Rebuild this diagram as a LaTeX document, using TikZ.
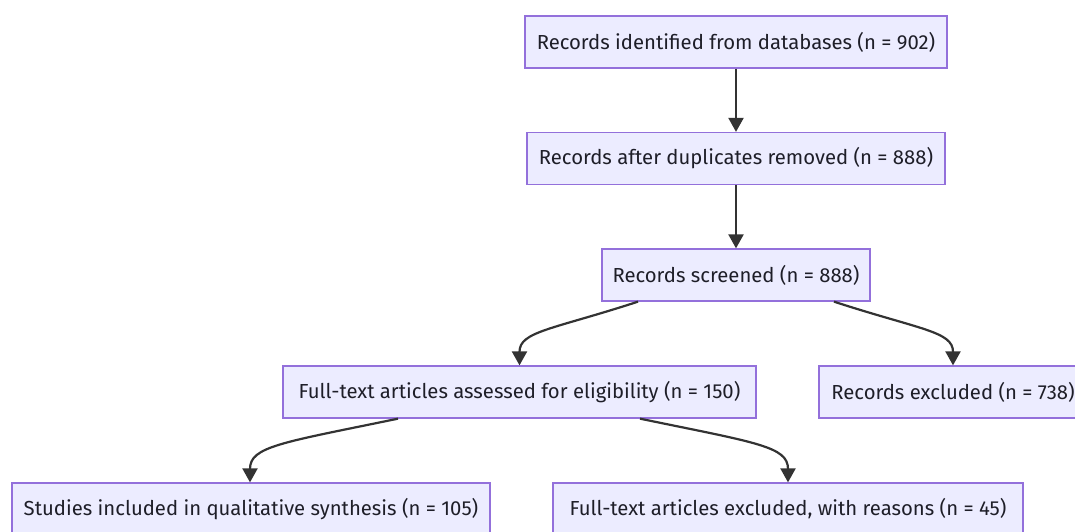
\documentclass[tikz,border=0pt]{standalone}
\usepackage{fontspec}
\setmainfont{Fira Sans}
\usetikzlibrary{arrows.meta}

\definecolor{boxfill}{RGB}{236,236,255}
\definecolor{boxline}{RGB}{147,112,219}
\definecolor{linkcol}{RGB}{51,51,51}
\definecolor{labelcol}{RGB}{30,30,40}

\begin{document}
\begin{tikzpicture}[x=1pt,y=1pt,yscale=-1,
  stage/.style={draw=boxline, fill=boxfill, line width=1.3pt, inner sep=0pt,
    minimum height=52pt, text=labelcol, font=\fontsize{20.3}{22}\selectfont},
  link/.style={draw=linkcol, line width=2.2pt, -{Triangle[length=14pt,width=15pt]}}]
\clip (0,0) rectangle (1075,531);

% Boxes
\node[stage, minimum width=422pt] (ident) at (736,42) {Records identified from databases (n = 902)};
\node[stage, minimum width=418pt] (dupl) at (736,158.5) {Records after duplicates removed (n = 888)};
\node[stage, minimum width=268pt] (scr) at (736,275) {Records screened (n = 888)};
\node[stage, minimum width=473pt] (full) at (519.5,392) {Full-text articles assessed for eligibility (n = 150)};
\node[stage, minimum width=268pt] (excl) at (953,392) {Records excluded (n = 738)};
\node[stage, minimum width=478pt] (incl) at (251,509) {Studies included in qualitative synthesis (n = 105)};
\node[stage, minimum width=470pt] (fexcl) at (788,509) {Full-text articles excluded, with reasons (n = 45)};

% Links
\draw[link] (ident) -- (dupl);
\draw[link] (dupl) -- (scr);
\draw[link] ([xshift=-98pt]scr.south) .. controls +(-86,28) and +(0,-34) .. (full.north);
\draw[link] ([xshift=98pt]scr.south) .. controls +(86,28) and +(0,-34) .. (excl.north);
\draw[link] ([xshift=-121.5pt]full.south) .. controls +(-116,24) and +(0,-36) .. ([xshift=-1pt]incl.north);
\draw[link] ([xshift=120.5pt]full.south) .. controls +(116,24) and +(0,-36) .. (fexcl.north);

\end{tikzpicture}
\end{document}
